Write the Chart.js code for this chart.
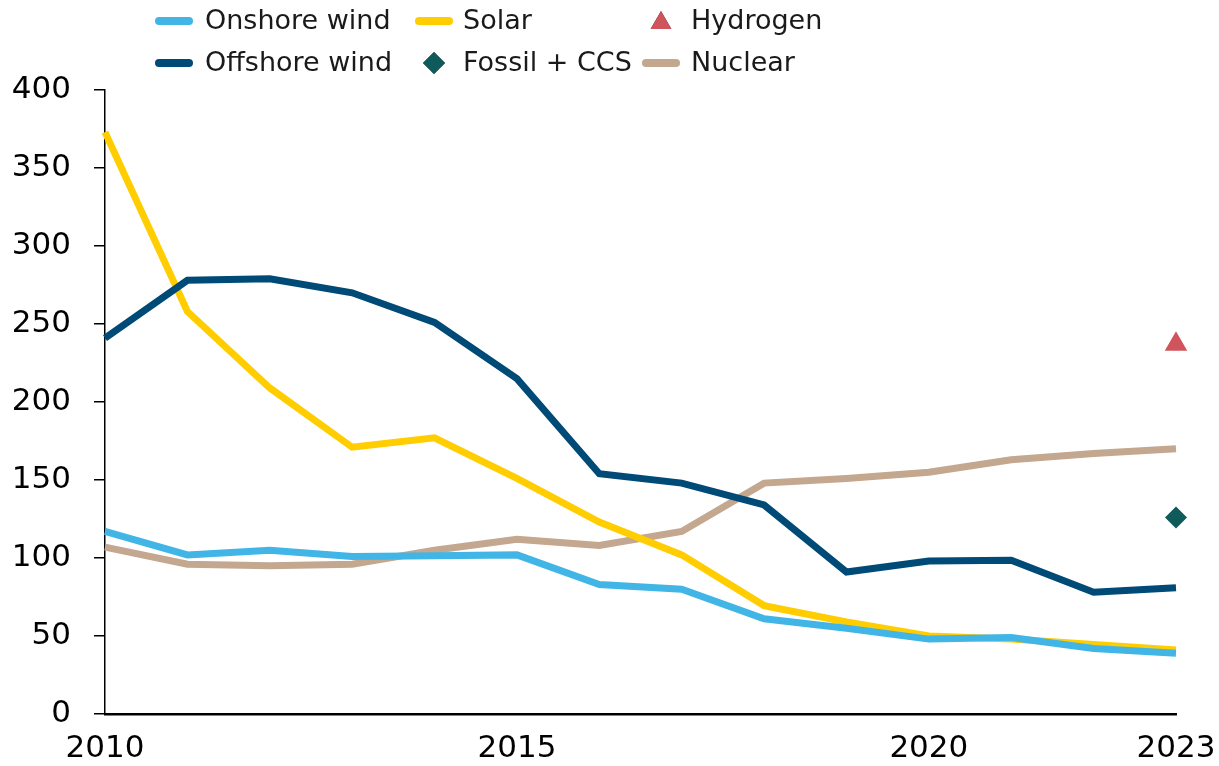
<!DOCTYPE html>
<html>
<head>
<meta charset="utf-8">
<script src="https://cdn.jsdelivr.net/npm/chart.js@4/dist/chart.umd.min.js"></script>
<style>
  body { margin: 0; background: #fff; }
  #wrap { width: 1219px; height: 766px; }
</style>
</head>
<body>
<div id="wrap"><canvas id="chart" width="1219" height="766"></canvas></div>
<script>
const years = ['2010','2011','2012','2013','2014','2015','2016','2017','2018','2019','2020','2021','2022','2023'];
const shownYears = ['2010','2015','2020','2023'];
const yTicks = [0, 50, 100, 150, 200, 250, 300, 350, 400];

const onshoreWind  = [117, 102, 105, 101, 101.5, 102, 83, 80, 61, 55, 48, 49, 42, 39];
const offshoreWind = [241, 278, 279, 270, 251, 215, 154, 148, 134, 91, 98, 98.5, 78, 81];
const solar        = [373, 258, 209, 171, 177, 151, 123, 102, 69.5, 59, 50, 48, 44.5, 41];
const nuclear      = [107, 96, 95, 96, 105, 112, 108, 117, 148, 151, 155, 163, 167, 170];
const hydrogen     = [null, null, null, null, null, null, null, null, null, null, null, null, null, 237];
const fossilCCS    = [null, null, null, null, null, null, null, null, null, null, null, null, null, 126];

const ctx = document.getElementById('chart').getContext('2d');

function lineSet(label, data, color) {
  return {
    label: label,
    data: data,
    borderColor: color,
    backgroundColor: color,
    borderWidth: 7,
    pointRadius: 0,
    tension: 0,
    legendType: 'line'
  };
}

function pointSet(label, data, color, style, radius) {
  return {
    label: label,
    data: data,
    borderColor: color,
    backgroundColor: color,
    showLine: false,
    pointStyle: style,
    pointRadius: radius,
    pointBorderWidth: 0,
    legendType: 'point'
  };
}

// legend drawn as a fixed 3 x 2 grid like the original
const gridLegend = {
  id: 'gridLegend',
  afterDraw(chart) {
    const c = chart.ctx;
    const order = ['Onshore wind', 'Solar', 'Hydrogen', 'Offshore wind', 'Fossil + CCS', 'Nuclear'];
    const colX = [155, 415, 642];
    const textX = [205, 463, 691];
    const rowY = [21, 63];
    c.save();
    c.font = '27px "DejaVu Sans"';
    c.textBaseline = 'middle';
    c.fillStyle = '#1a1a1a';
    order.forEach((name, i) => {
      const ds = chart.data.datasets.find(d => d.label === name);
      const col = i % 3, row = Math.floor(i / 3);
      const y = rowY[row];
      if (ds.legendType === 'line') {
        c.strokeStyle = ds.borderColor;
        c.lineWidth = 8;
        c.lineCap = 'round';
        c.beginPath();
        c.moveTo(colX[col] + 4, y);
        c.lineTo(colX[col] + 34, y);
        c.stroke();
      } else {
        Chart.helpers.drawPoint(c, {
          pointStyle: ds.pointStyle,
          radius: ds.pointStyle === 'triangle' ? 12 : 11,
          borderWidth: 0,
          rotation: 0
        }, colX[col] + 19, y + (ds.pointStyle === 'triangle' ? 2 : 0));
        c.fillStyle = ds.backgroundColor;
        c.fill();
      }
      c.fillStyle = '#1a1a1a';
      c.fillText(name, textX[col], y + 1);
    });
    c.restore();
  }
};

const chart = new Chart(ctx, {
  type: 'line',
  data: {
    labels: years,
    datasets: [
      lineSet('Onshore wind', onshoreWind, '#41B6E6'),
      lineSet('Offshore wind', offshoreWind, '#004A77'),
      lineSet('Solar', solar, '#FFCD00'),
      lineSet('Nuclear', nuclear, '#C4A78F'),
      pointSet('Hydrogen', hydrogen, '#D0545C', 'triangle', 13),
      pointSet('Fossil + CCS', fossilCCS, '#0F5A5A', 'rectRot', 11)
    ]
  },
  options: {
    responsive: false,
    animation: false,
    layout: { padding: { top: 90, right: 43, left: 0, bottom: 0 } },
    plugins: {
      legend: { display: false },
      tooltip: { enabled: false }
    },
    scales: {
      x: {
        offset: false,
        grid: { display: true, drawOnChartArea: false, drawTicks: false },
        border: { display: true, color: '#000', width: 2.5 },
        ticks: {
          autoSkip: false,
          maxRotation: 0,
          padding: 16,
          color: '#000',
          font: { family: 'DejaVu Sans', size: 31 },
          callback: function(v) {
            const lab = this.getLabelForValue(v);
            return shownYears.includes(lab) ? lab : '';
          }
        },
        afterFit: s => { s.height = 52; s.paddingLeft = 0; s.paddingRight = 0; }
      },
      y: {
        min: 0,
        max: 400,
        afterBuildTicks: s => { s.ticks = yTicks.map(v => ({ value: v })); },
        grid: { display: true, drawOnChartArea: false, drawTicks: true, tickLength: 11, color: '#000', lineWidth: 1.5 },
        border: { display: true, color: '#000', width: 1.5 },
        ticks: {
          padding: 23,
          color: '#000',
          font: { family: 'DejaVu Sans', size: 31 }
        },
        afterFit: s => { s.width = 105; }
      }
    }
  },
  plugins: [gridLegend]
});
</script>
</body>
</html>
